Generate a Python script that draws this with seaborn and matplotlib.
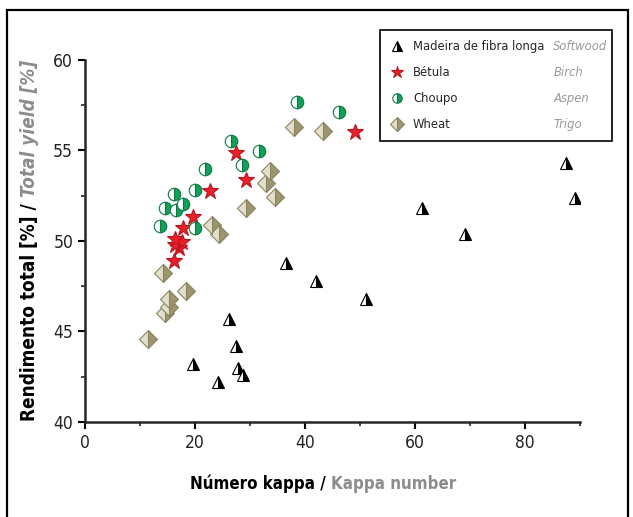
import matplotlib
matplotlib.use("Agg")
import matplotlib.pyplot as plt
from matplotlib.lines import Line2D
from matplotlib.patches import Rectangle
from matplotlib.ticker import MultipleLocator
import numpy as np
import pandas as pd
import seaborn as sns

# Kappa number vs. total yield for four raw materials
softwood_kappa = [19.7, 24.2, 26.1, 27.5, 27.9, 28.8, 36.5, 42.0, 51.0, 61.2, 69.1, 87.4, 89.1]
softwood_yield = [43.2, 42.2, 45.7, 44.2, 43.0, 42.6, 48.8, 47.8, 46.8, 51.8, 50.4, 54.3, 52.4]

birch_kappa = [16.2, 17.0, 16.3, 17.6, 16.4, 17.8, 19.6, 22.7, 27.4, 29.2, 49.0]
birch_yield = [48.9, 49.6, 49.8, 49.95, 50.1, 50.7, 51.35, 52.75, 54.85, 53.35, 56.0]

aspen_kappa = [13.6, 20.0, 14.5, 16.5, 17.8, 16.1, 20.0, 21.8, 28.5, 26.5, 31.6, 38.6, 46.1]
aspen_yield = [50.85, 50.7, 51.8, 51.7, 52.05, 52.6, 52.8, 54.0, 54.2, 55.55, 54.95, 57.7, 57.1]

wheat_kappa = [11.4, 14.5, 15.3, 15.2, 18.4, 14.1, 24.4, 23.1, 29.3, 34.5, 32.9, 33.6, 38.0, 43.3]
wheat_yield = [44.6, 46.0, 46.35, 46.8, 47.25, 48.25, 50.4, 50.9, 51.85, 52.45, 53.2, 53.85, 56.3, 56.05]

labels_pt = ["Madeira de fibra longa", "Bétula", "Choupo", "Wheat"]
labels_en = ["Softwood", "Birch", "Aspen", "Trigo"]

x_ticks = [0, 20, 40, 60, 80]
y_ticks = [40, 45, 50, 55, 60]

sns.set_style("ticks")
plt.rcParams["font.family"] = ["DejaVu Sans"]
plt.rcParams["font.stretch"] = "condensed"

groups = [
    (softwood_kappa, softwood_yield, dict(marker="^", color="black", markerfacecoloralt="white",
                                          markeredgecolor="black", fillstyle="right", markersize=9)),
    (birch_kappa, birch_yield, dict(marker="*", color="#e8202a", markerfacecoloralt="#c01820",
                                    markeredgecolor="#b8141c", fillstyle="full", markersize=12)),
    (aspen_kappa, aspen_yield, dict(marker="o", color="#14a05a", markerfacecoloralt="white",
                                    markeredgecolor="#0c7a42", fillstyle="right", markersize=9)),
    (wheat_kappa, wheat_yield, dict(marker="D", color="#9c9670", markerfacecoloralt="#e2dfcc",
                                    markeredgecolor="#8a8560", fillstyle="right", markersize=9)),
]

fig = plt.figure(figsize=(6.33, 5.17), dpi=100)
ax = fig.add_axes([85 / 633, 1 - 422 / 517, 495 / 633, 362 / 517])

for kx, ky, style in groups:
    df = pd.DataFrame({"kappa": kx, "yield": ky})
    sns.lineplot(data=df, x="kappa", y="yield", sort=False, estimator=None,
                 linestyle="", markeredgewidth=0.8, ax=ax, legend=False, **style)

ax.set_xlim(0, 90)
ax.set_ylim(40, 60)
ax.set_xticks(x_ticks)
ax.set_yticks(y_ticks)
ax.xaxis.set_minor_locator(MultipleLocator(10))
ax.yaxis.set_minor_locator(MultipleLocator(2.5))
ax.tick_params(which="major", direction="out", length=5, width=1.5, labelsize=12.5,
               colors="black", labelcolor="#222222")
ax.tick_params(which="minor", direction="out", length=3, width=1.2)
ax.set_xlabel("")
ax.set_ylabel("")
sns.despine(ax=ax)
for side in ("left", "bottom"):
    ax.spines[side].set_linewidth(1.8)

# two-colour axis titles
xl_kw = dict(fontsize=12.2, fontweight="bold")
xl1 = fig.text(190 / 633, 1 - 484 / 517, "Número kappa / ", color="black",
               ha="left", va="center", **xl_kw)
ax.annotate("Kappa number", xy=(1, 0), xycoords=xl1, ha="left", va="bottom",
            color="#8c8c8c", **xl_kw)

yl_kw = dict(fontsize=13.6, fontweight="bold")
yl1 = fig.text(30 / 633, 1 - 421 / 517, "Rendimento total [%] / ", color="black",
               rotation=90, ha="center", va="bottom", **yl_kw)
ax.annotate("Total yield [%]", xy=(0.5, 1), xycoords=yl1, ha="center", va="bottom", rotation=90,
            fontstyle="italic", color="#8c8c8c", **yl_kw)

# legend with Portuguese names and English names in a second column
handles = [Line2D([], [], linestyle="", markeredgewidth=0.8, **dict(s, markersize=s["markersize"] * 0.75))
           for _, _, s in groups]
leg = ax.legend(handles, labels_pt, loc="upper left",
                bbox_to_anchor=(380 / 633, 1 - 30 / 517, 232 / 633, 0.0),
                bbox_transform=fig.transFigure, mode="expand", borderaxespad=0,
                frameon=True, fancybox=False, edgecolor="black", framealpha=1,
                fontsize=9.3, labelspacing=1.0, handlelength=1.0, handletextpad=0.75,
                borderpad=0.8)
leg.get_frame().set_linewidth(1.2)
for t, en in zip(leg.get_texts(), labels_en):
    ax.annotate(en, xy=(0, 0.5), xycoords=t, xytext=(101, 0), textcoords="offset points",
                ha="left", va="center", fontsize=9.3, fontstyle="italic", color="#9a9a9a",
                zorder=10)

# outer frame around the figure
fig.patches.append(Rectangle((7 / 633, -0.05), 621 / 633, 1.05 - 10 / 517, transform=fig.transFigure,
                             fill=False, edgecolor="black", linewidth=1.6, clip_on=False))

fig.savefig("out.png", dpi=100)
